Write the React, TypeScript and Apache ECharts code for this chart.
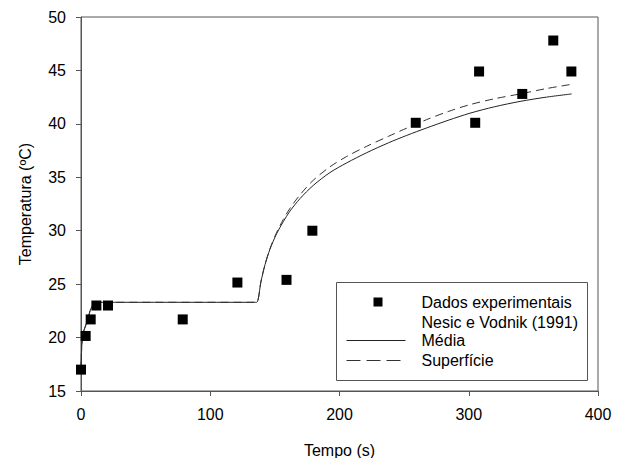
import React, { useEffect, useRef } from "react";
import * as echarts from "echarts";

// Experimental points (Nesic e Vodnik, 1991)
const expTime = [0, 3.6, 7.5, 11.9, 20.9, 78.7, 121, 159, 179, 259, 305, 308, 341.4, 365.4, 379.4];
const expTemp = [17.0, 20.15, 21.7, 23.0, 23.0, 21.7, 25.15, 25.4, 30.0, 40.1, 40.1, 44.9, 42.8, 47.8, 44.9];

// Model curve – "Média"
const mediaTime = [0, 1.3, 5, 8, 12, 134, 136, 139.3, 142.4, 146.2, 151.4, 156.5, 161.7, 169.4, 179.7, 192.6, 205.6, 221, 237.8, 252, 267.5, 284, 301, 320, 339.7, 360, 379.6];
const mediaTemp = [17.0, 20.2, 21.6, 22.8, 23.3, 23.3, 23.3, 25.28, 26.83, 28.27, 29.73, 30.85, 31.84, 33.0, 34.24, 35.44, 36.35, 37.3, 38.22, 38.92, 39.62, 40.33, 41.0, 41.6, 42.1, 42.5, 42.8];

// Model curve – "Superfície"
const superTime = [0, 1.3, 5, 8, 12, 134, 136, 139.3, 142.4, 146.2, 151.4, 156.5, 161.7, 169.4, 179.7, 192.6, 205.6, 221, 237.8, 252, 267.5, 284, 301, 320, 339.7, 360, 379.6];
const superTemp = [17.0, 20.2, 21.6, 22.8, 23.3, 23.3, 23.3, 25.28, 26.85, 28.32, 29.85, 31.05, 32.1, 33.35, 34.72, 35.98, 36.95, 37.9, 38.83, 39.6, 40.4, 41.15, 41.8, 42.35, 42.8, 43.3, 43.7];

const xTicks = { min: 0, max: 400, interval: 100 };
const yTicks = { min: 15, max: 50, interval: 5 };

const FONT = "'Liberation Sans', Arial, sans-serif";
const FS = 16;

export default function App() {
  const ref = useRef<HTMLDivElement>(null);

  useEffect(() => {
    if (!ref.current) return;
    const chart = echarts.init(ref.current, undefined, { renderer: "svg" });

    const zip = (a: number[], b: number[]) => a.map((v, i) => [v, b[i]]);

    const legendX = 336;
    const legendY = 282;
    const textStyle = { fill: "#000", fontSize: FS, fontFamily: FONT };

    chart.setOption({
      animation: false,
      backgroundColor: "#fff",
      textStyle: { fontFamily: FONT },
      grid: {
        left: 81,
        right: 24,
        top: 17,
        bottom: 67,
        containLabel: false,
        outerBoundsMode: "none",
        show: true,
        borderColor: "#555",
        borderWidth: 1,
      },
      xAxis: {
        type: "value",
        ...xTicks,
        name: "Tempo (s)",
        nameLocation: "middle",
        nameGap: 51,
        nameTextStyle: { fontSize: FS, color: "#000", fontFamily: FONT },
        axisLine: { show: true, lineStyle: { color: "#555", width: 1 } },
        axisTick: { show: true, length: 5, inside: false, lineStyle: { color: "#555" } },
        axisLabel: { fontSize: FS, color: "#000", margin: 15, fontFamily: FONT },
        splitLine: { show: false },
      },
      yAxis: {
        type: "value",
        ...yTicks,
        name: "Temperatura (ºC)",
        nameLocation: "middle",
        nameGap: 48,
        nameTextStyle: { fontSize: FS, color: "#000", fontFamily: FONT },
        axisLine: { show: true, lineStyle: { color: "#555", width: 1 } },
        axisTick: { show: true, length: 5, inside: false, lineStyle: { color: "#555" } },
        axisLabel: { fontSize: FS, color: "#000", margin: 15, fontFamily: FONT },
        splitLine: { show: false },
      },
      series: [
        {
          name: "Média",
          type: "line",
          data: zip(mediaTime, mediaTemp),
          showSymbol: false,
          symbol: "none",
          smooth: 0.3,
          lineStyle: { color: "#222", width: 1 },
          z: 2,
        },
        {
          name: "Superfície",
          type: "line",
          data: zip(superTime, superTemp),
          showSymbol: false,
          symbol: "none",
          smooth: 0.3,
          lineStyle: { color: "#333", width: 1, type: [8, 5] },
          z: 2,
        },
        {
          name: "Dados experimentais",
          type: "scatter",
          data: zip(expTime, expTemp),
          symbol: "rect",
          symbolSize: 10,
          itemStyle: { color: "#000", opacity: 1 },
          z: 3,
        },
      ],
      graphic: [
        {
          type: "group",
          left: legendX,
          top: legendY,
          children: [
            {
              type: "rect",
              shape: { x: 0, y: 0, width: 251, height: 98 },
              style: { fill: "#fff", stroke: "#555", lineWidth: 1 },
            },
            {
              type: "rect",
              shape: { x: 37, y: 15, width: 9, height: 9 },
              style: { fill: "#000" },
            },
            {
              type: "text",
              x: 85,
              y: 20,
              style: { ...textStyle, text: "Dados experimentais", verticalAlign: "middle" },
            },
            {
              type: "text",
              x: 85,
              y: 40,
              style: { ...textStyle, text: "Nesic e Vodnik (1991)", verticalAlign: "middle" },
            },
            {
              type: "line",
              shape: { x1: 10, y1: 58, x2: 69, y2: 58 },
              style: { stroke: "#222", lineWidth: 1 },
            },
            {
              type: "text",
              x: 85,
              y: 58,
              style: { ...textStyle, text: "Média", verticalAlign: "middle" },
            },
            {
              type: "line",
              shape: { x1: 10, y1: 78, x2: 69, y2: 78 },
              style: { stroke: "#333", lineWidth: 1, lineDash: [14, 6] },
            },
            {
              type: "text",
              x: 85,
              y: 78,
              style: { ...textStyle, text: "Superfície", verticalAlign: "middle" },
            },
          ],
        },
      ],
    });

    return () => chart.dispose();
  }, []);

  return (
    <div
      ref={ref}
      style={{ position: "fixed", left: 0, top: 0, width: 622, height: 458 }}
    />
  );
}
